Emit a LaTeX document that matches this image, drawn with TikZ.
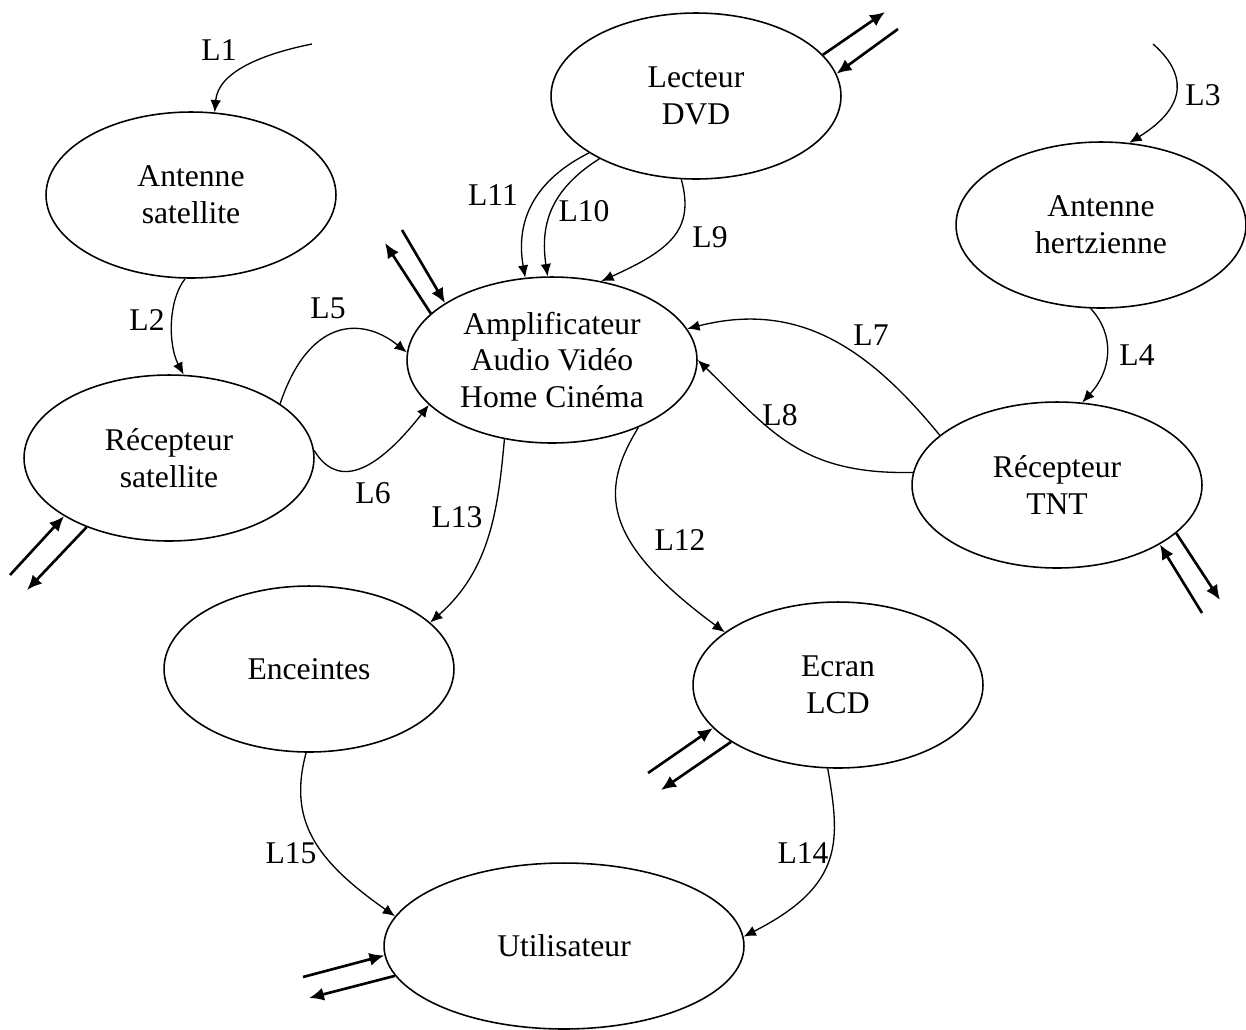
\documentclass[tikz,border=0pt]{standalone}
\usepackage{fontspec}
\setmainfont{Liberation Serif}
\usetikzlibrary{shapes.geometric,arrows.meta}

\begin{document}
\begin{tikzpicture}[x=0.02cm, y=-0.02cm,
  bloc/.style={ellipse, draw, line width=0.9pt, minimum width=5.8cm,
    minimum height=3.32cm, inner sep=0pt, align=center,
    font=\fontsize{18pt}{21pt}\selectfont},
  lien/.style={line width=0.75pt, -{Latex[length=7pt,width=6pt]}},
  flux/.style={line width=1.5pt, -{Latex[length=8.5pt,width=7.5pt]}},
  etiq/.style={inner sep=0pt, font=\fontsize{18pt}{21pt}\selectfont}]

\useasboundingbox (0,0) rectangle (1246,1029);

% Blocs
\node[bloc] (antsat) at (191,195) {Antenne\\satellite};
\node[bloc] (dvd) at (696,96) {Lecteur\\DVD};
\node[bloc] (anthz) at (1101,225) {Antenne\\hertzienne};
\node[bloc] (recsat) at (169,458) {Récepteur\\satellite};
\node[bloc] (ampli) at (552,360) {Amplificateur\\Audio Vidéo\\Home Cinéma};
\node[bloc] (rectnt) at (1057,485) {Récepteur\\TNT};
\node[bloc] (enc) at (309,669) {Enceintes};
\node[bloc] (lcd) at (838,685) {Ecran\\LCD};
\node[bloc, minimum width=7.2cm] (util) at (564,946) {Utilisateur};

% Entrees libres
\coordinate (l1in) at (312,44);
\coordinate (l3in) at (1153,44);

% Liaisons
\draw[lien] (l1in) .. controls (262,54) and (218,72) .. (antsat.74);
\draw[lien] (antsat.-94) .. controls (168,300) and (168,345) .. (recsat.80);
\draw[lien] (l3in) .. controls (1185,72) and (1190,105) .. (anthz.71);
\draw[lien] (anthz.-97) .. controls (1115,335) and (1112,370) .. (rectnt.73);
\draw[lien] (recsat.26) .. controls (308,320) and (360,315) .. (ampli.177);
\draw[lien] (recsat.3) .. controls (335,485) and (370,480) .. (ampli.200);
\draw[lien] (rectnt.157) .. controls (870,350) and (800,300) .. (ampli.13);
\draw[lien] (rectnt.175) .. controls (800,475) and (770,430) .. (ampli.0);
\draw[lien] (dvd.-100) .. controls (695,230) and (670,250) .. (ampli.58);
\draw[lien] (dvd.213) .. controls (550,190) and (540,225) .. (ampli.93);
\draw[lien] (dvd.208) .. controls (535,180) and (515,220) .. (ampli.108);
\draw[lien] (ampli.-38) .. controls (600,490) and (600,540) .. (lcd.155);
\draw[lien] (ampli.-121) .. controls (498,510) and (490,570) .. (enc.21);
\draw[lien] (lcd.-97) .. controls (840,840) and (845,885) .. (util.3);
\draw[lien] (enc.-92) .. controls (288,820) and (315,860) .. (util.170);

% Etiquettes
\node[etiq] (t1) at (219,50) {L1};
\node[etiq] (t2) at (147,320) {L2};
\node[etiq] (t3) at (1203,95) {L3};
\node[etiq] (t4) at (1137,355) {L4};
\node[etiq] (t5) at (328,308) {L5};
\node[etiq] (t6) at (373,493) {L6};
\node[etiq] (t7) at (871,335) {L7};
\node[etiq] (t8) at (780,415) {L8};
\node[etiq] (t9) at (710,237) {L9};
\node[etiq] (t10) at (584,211) {L10};
\node[etiq] (t11) at (493,195) {L11};
\node[etiq] (t12) at (680,540) {L12};
\node[etiq] (t13) at (457,517) {L13};
\node[etiq] (t14) at (803,853) {L14};
\node[etiq] (t15) at (291,853) {L15};

% Echanges avec l'exterieur
\coordinate (dvdout) at (885,12);
\coordinate (dvdin) at (898,29);
\draw[flux] (dvd.18) -- (dvdout);
\draw[flux] (dvdin) -- (dvd.9);

\coordinate (ampout) at (385,243);
\coordinate (ampin) at (402,230);
\draw[flux] (ampli.159) -- (ampout);
\draw[flux] (ampin) -- (ampli.152);

\coordinate (rsout) at (27,590);
\coordinate (rsin) at (10,575);
\draw[flux] (recsat.220) -- (rsout);
\draw[flux] (rsin) -- (recsat.209);

\coordinate (rtout) at (1220,600);
\coordinate (rtin) at (1202,613);
\draw[flux] (rectnt.-22) -- (rtout);
\draw[flux] (rtin) -- (rectnt.-30);

\coordinate (lcdout) at (661,790);
\coordinate (lcdin) at (648,773);
\draw[flux] (lcd.208) -- (lcdout);
\draw[flux] (lcdin) -- (lcd.199);

\coordinate (utout) at (309,998);
\coordinate (utin) at (303,977);
\draw[flux] (util.190) -- (utout);
\draw[flux] (utin) -- (util.183);

\end{tikzpicture}
\end{document}
